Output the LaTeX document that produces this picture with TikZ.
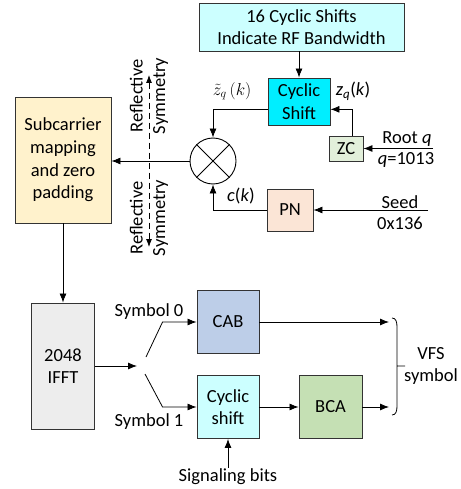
\documentclass[tikz,border=0pt]{standalone}
\usepackage{fontspec}
\setmainfont{Carlito}
\usetikzlibrary{arrows.meta,calc}
\definecolor{rfcyan}{RGB}{204,255,255}
\definecolor{cscyan}{RGB}{0,238,255}
\definecolor{zcgreen}{RGB}{226,239,218}
\definecolor{pnpeach}{RGB}{251,229,214}
\definecolor{subyellow}{RGB}{255,242,204}
\definecolor{ifftgray}{RGB}{237,237,237}
\definecolor{cabblue}{RGB}{189,206,232}
\definecolor{bcagreen}{RGB}{197,224,180}

\begin{document}
\begin{tikzpicture}[x=1pt,y=-1pt,
    font=\fontsize{18.5}{22.6}\selectfont,
    blk/.style={draw=black!80,line width=0.9pt,inner sep=1pt,align=center},
    arr/.style={-{Latex[length=9pt,width=7pt]},line width=0.8pt},
    lbl/.style={inner sep=1pt,align=center}]
    \useasboundingbox (0,0) rectangle (460,489);
    % upper part
    \node[blk,fill=rfcyan,minimum width=205pt,minimum height=48pt] (rf) at (301.5,27) {16 Cyclic Shifts\\Indicate RF Bandwidth};
    \node[blk,fill=cscyan,minimum width=62pt,minimum height=47pt] (cs) at (299,101.5) {Cyclic\\Shift};
    \node[blk,fill=zcgreen,minimum width=34pt,minimum height=25pt] (zc) at (346,148.5) {ZC};
    \node[blk,fill=pnpeach,minimum width=46pt,minimum height=42pt] (pn) at (290,210) {PN};
    \node[blk,fill=subyellow,minimum width=96pt,minimum height=126pt] (sub) at (63,160) {Subcarrier\\mapping\\and zero\\padding};
    \node[draw,circle,line width=0.9pt,minimum size=46pt,inner sep=0pt] (mult) at (213,161) {};
    \draw[line width=0.8pt] (mult.45) -- (mult.225) (mult.135) -- (mult.315);
    \node[lbl] (zt) at (232,91) {$\tilde{z}_q\left(k\right)$};
    \node[lbl] (zq) at (353,91) {\textit{z}\textsubscript{\textit{q}}(\textit{k})};
    \node[lbl] (ck) at (241,196) {\textit{c}(\textit{k})};
    \node[lbl] (root) at (407,139) {Root \textit{q}};
    \node[lbl] (qval) at (406,160) {\textit{q}=1013};
    \node[lbl] (seed) at (400,202) {Seed};
    \node[lbl] (seedval) at (400,223) {0x136};
    \coordinate (rootin) at (433,148.5);
    \coordinate (seedin) at (428,210);
    \draw[arr] (rf.south -| cs.north) -- (cs.north);
    \draw[arr] (zc.64) |- (cs.-14);
    \draw[arr] (cs.194) -| (mult.north);
    \draw[arr] (pn.west) -| (mult.south);
    \draw[arr] (rootin) -- (zc.east);
    \draw[arr] (seedin) -- (pn.east);
    \draw[arr] (mult.west) -- (sub.east |- mult.west);
    % symmetry line
    \coordinate (symtop) at (149,75);
    \coordinate (symbot) at (149,247);
    \draw[{Latex[length=8pt,width=6pt]}-{Latex[length=8pt,width=6pt]},line width=0.8pt,dash pattern=on 6pt off 4pt] (symtop) -- (symbot);
    \node[lbl,rotate=90] (symup) at (149,96) {Reflective\\Symmetry};
    \node[lbl,rotate=90] (symdn) at (149,218) {Reflective\\Symmetry};
    % lower part
    \node[blk,fill=ifftgray,minimum width=63pt,minimum height=126pt] (ifft) at (63,366) {2048\\IFFT};
    \node[blk,fill=cabblue,minimum width=62pt,minimum height=63pt] (cab) at (228,322) {CAB};
    \node[blk,fill=rfcyan,minimum width=62pt,minimum height=63pt] (shift) at (228,407) {Cyclic\\shift};
    \node[blk,fill=bcagreen,minimum width=63pt,minimum height=63pt] (bca) at (330.5,407) {BCA};
    \node[lbl] (sym0) at (149,312) {Symbol 0};
    \node[lbl] (sym1) at (149,422) {Symbol 1};
    \node[lbl] (sig) at (228,477) {Signaling bits};
    \node[lbl] (vfstext) at (431,366) {VFS\\symbol};
    \coordinate (sw) at (137,366);
    \coordinate (vfs) at (389,366);
    \draw[arr] (sub.south) -- (ifft.north);
    \draw[arr] (ifft.east) -- (sw);
    \draw[arr] ($(sw)+(9,-9)$) -- ($(cab.west)+(-34,0)$) -- (cab.west);
    \draw[arr] ($(sw)+(8,8)$) -- ($(shift.west)+(-34,0)$) -- (shift.west);
    \draw[arr] (shift.east) -- (bca.west);
    \draw[arr] (cab.east) -- (cab.east -| vfs);
    \draw[arr] (bca.east) -- (bca.east -| vfs);
    \draw[arr] (sig.north) -- (shift.south);
    \draw[line width=0.8pt] (392,318) .. controls (396,318) and (397,322) .. (397,327) -- (397,406)
        .. controls (397,411) and (396,415) .. (392,415) (397,366) -- (405,366);
\end{tikzpicture}
\end{document}
